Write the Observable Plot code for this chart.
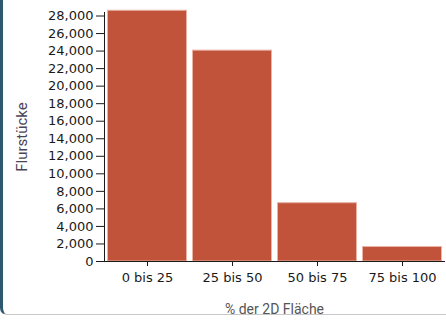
<!DOCTYPE html>
<html>
<head>
<meta charset="utf-8">
<script src="https://cdn.jsdelivr.net/npm/d3@7"></script>
<script src="https://cdn.jsdelivr.net/npm/@observablehq/plot@0.6"></script>
<style>
  html, body { margin: 0; padding: 0; background: #fff; }
  #wrap { position: relative; width: 446px; height: 320px; overflow: hidden; }
  #frame { position: absolute; left: 0; top: -12px; width: 470px; height: 327px;
           border-left: 3px solid #2d5870; border-bottom: 1px solid #c8c8c8;
           border-bottom-left-radius: 7px; box-sizing: border-box; pointer-events: none; }
  #chart { position: absolute; left: 0; top: 0; }
</style>
</head>
<body>
<div id="wrap">
  <div id="chart"></div>
  <div id="frame"></div>
</div>
<script>
const categories = ["0 bis 25", "25 bis 50", "50 bis 75", "75 bis 100"];
const counts = [28600, 24050, 6650, 1650];
const yTicks = [0, 2000, 4000, 6000, 8000, 10000, 12000, 14000, 16000, 18000, 20000, 22000, 24000, 26000, 28000];

const data = categories.map((c, i) => ({category: c, value: counts[i]}));

const chart = Plot.plot({
  width: 446,
  height: 320,
  marginLeft: 104,
  marginRight: 2,
  marginTop: 12,
  marginBottom: 59,
  style: {fontFamily: "DejaVu Sans", fontSize: "13px", color: "#1a1a1a", background: "transparent"},
  x: {domain: categories, paddingInner: 0.06, paddingOuter: 0.03},
  y: {domain: [0, 28400]},
  marks: [
    Plot.barY(data, {x: "category", y: "value", fill: "#c1533a", stroke: "#e9b2a4", strokeWidth: 1, insetLeft: 0.5, insetRight: 0.5}),
    Plot.axisY({ticks: yTicks, tickFormat: d3.format(","), tickSize: 8, tickPadding: 3,
      label: "Flurstücke", labelAnchor: "center", labelArrow: false, labelOffset: 88,
      fontSize: 13}),
    Plot.axisX({tickSize: 5, tickPadding: 6, fontSize: 13,
      label: "% der 2D Fläche", labelAnchor: "center", labelArrow: false, labelOffset: 52}),
    Plot.frame({anchor: "left"}),
    Plot.frame({anchor: "bottom"})
  ]
});
document.getElementById("chart").appendChild(chart);

const svg = d3.select(chart);
svg.selectAll("[aria-label='y-axis label']")
  .attr("fill", "#4a4458").style("font-family", "Roboto").style("font-size", "15px");
svg.selectAll("[aria-label='x-axis label']")
  .attr("fill", "#555").style("font-family", "Roboto").style("font-size", "14px");
</script>
</body>
</html>
